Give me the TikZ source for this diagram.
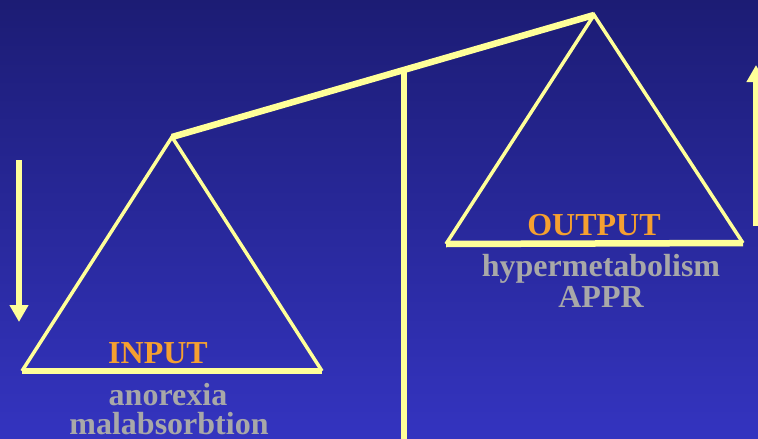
\documentclass[tikz,border=0pt]{standalone}
\usepackage{fontspec}
\setmainfont{Liberation Serif}
\usetikzlibrary{arrows.meta}
\definecolor{bgtop}{HTML}{1C1C74}
\definecolor{bgbot}{HTML}{3434C0}
\definecolor{scaleyellow}{HTML}{FFFF99}
\definecolor{labelorange}{HTML}{F5A030}
\definecolor{labelgray}{HTML}{A8A8A8}
\begin{document}
\begin{tikzpicture}[x=1pt,y=-1pt,
  thick bar/.style={draw=scaleyellow,line width=6.5pt},
  thin bar/.style={draw=scaleyellow,line width=3.5pt,line join=miter},
  bigarrow/.style={draw=scaleyellow,line width=6.5pt,-{Triangle[width=18pt,length=17pt,fill=scaleyellow]}},
  title/.style={font=\fontsize{32}{32}\selectfont\bfseries,text=labelorange,inner sep=0pt,anchor=base},
  item/.style={font=\fontsize{32}{32}\selectfont\bfseries,text=labelgray,inner sep=0pt,anchor=base}]
\useasboundingbox (0,0) rectangle (758,439);
\shade[top color=bgtop,bottom color=bgbot] (0,0) rectangle (758,439);
% coordinates
\coordinate (lapex) at (172,137);
\coordinate (lbl) at (22,371);
\coordinate (lbr) at (322,371);
\coordinate (rapex) at (594,15);
\coordinate (rbl) at (446,244);
\coordinate (rbr) at (743,243);
\coordinate (posttop) at (404,69);
\coordinate (postbot) at (404,445);
\coordinate (la1) at (19,160);
\coordinate (la2) at (19,322);
\coordinate (ra1) at (756,226);
\coordinate (ra2) at (756,65);
% triangles
\draw[thin bar] (lbl) -- (lapex) -- (lbr);
\draw[thin bar] (rbl) -- (rapex) -- (rbr);
\draw[thick bar] (lbl) -- (lbr);
\draw[thick bar] (rbl) -- (rbr);
% beam and post
\draw[thick bar] (lapex) -- (rapex);
\draw[thick bar] (posttop) -- (postbot);
% arrows
\draw[bigarrow] (la1) -- (la2);
\draw[bigarrow] (ra1) -- (ra2);
% labels
\node[title] (input) at (158,363) {INPUT};
\node[item] (anorexia) at (168,405) {anorexia};
\node[item] (malabs) at (169,434) {malabsorbtion};
\node[title] (output) at (594,235) {OUTPUT};
\node[item] (hyper) at (601,276) {hypermetabolism};
\node[item] (appr) at (601,307) {APPR};
\end{tikzpicture}
\end{document}
